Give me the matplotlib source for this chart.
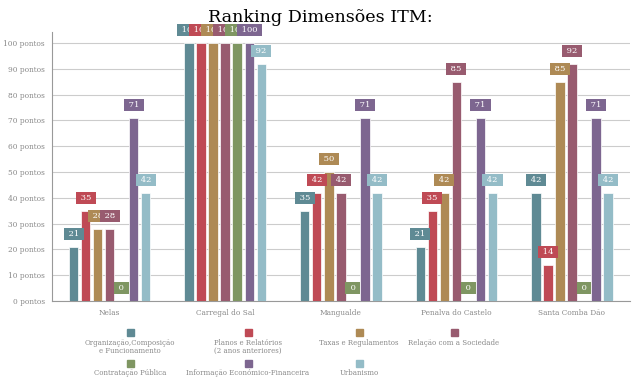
import numpy as np
import matplotlib
matplotlib.use("Agg")
import matplotlib.pyplot as plt
from matplotlib.patches import Rectangle

plt.rcParams['font.family'] = ['DejaVu Serif']

# data
cities = ["Nelas", "Carregal do Sal", "Mangualde", "Penalva do Castelo", "Santa Comba Dão"]
series_names = ["Organização,Composição\ne Funcionamento", "Planos e Relatórios\n(2 anos anteriores)",
                "Taxas e Regulamentos", "Relação com a Sociedade", "Contratação Pública",
                "Informação Económico-Financeira", "Urbanismo"]
organizacao = [21, 100, 35, 21, 42]
planos = [35, 100, 42, 35, 14]
taxas = [28, 100, 50, 42, 85]
relacao = [28, 100, 42, 85, 92]
contratacao = [0, 100, 0, 0, 0]
informacao = [71, 100, 71, 71, 71]
urbanismo = [42, 92, 42, 42, 42]
series = [organizacao, planos, taxas, relacao, contratacao, informacao, urbanismo]
colors = ["#5f8a94", "#bf4a55", "#ae8a55", "#985b6f", "#7f9662", "#7d6690", "#94bcc7"]
yticks = list(range(0, 101, 10))

fig = plt.figure(figsize=(6.4, 3.84), dpi=100)
ax = fig.add_axes([0.081, 0.216, 0.903, 0.701])

x = np.arange(len(cities))
slot = 0.104
width = 0.082
for i, (vals, c) in enumerate(zip(series, colors)):
    pos = x + (i - 3) * slot
    ax.bar(pos, vals, width, color=c, edgecolor='white', linewidth=0.5, zorder=3)
    for px, v in zip(pos, vals):
        ax.annotate(f" {v} ", (px, v), xytext=(0, 13), textcoords='offset pixels',
                    ha='center', va='center', fontsize=6, color='white', zorder=4 + i,
                    bbox=dict(boxstyle='square,pad=0.25', fc=c, ec='none'))

ax.set_xlim(-0.5, len(cities) - 0.5)
ax.set_ylim(0, 104.3)
ax.set_yticks(yticks)
ax.set_yticklabels([f"{t} pontos" for t in yticks])
ax.set_xticks(x)
ax.set_xticklabels(cities)
ax.tick_params(colors='#888888', labelsize=5.3, length=0)
ax.tick_params(axis='x', pad=6)
ax.tick_params(axis='y', pad=5)
ax.grid(axis='y', color='#cccccc', linewidth=0.8, zorder=0)
for s in ['top', 'right']:
    ax.spines[s].set_visible(False)
for s in ['left', 'bottom']:
    ax.spines[s].set_color('#999999')

fig.text(0.5, 1 - 17 / 384, "Ranking Dimensões ITM:", ha='center', va='center', fontsize=12.6)

# legend, drawn by hand in figure pixels
col_x = [130, 248, 359, 454]
rows_y = [(332, 339), (363, 369)]
for i, (name, c) in enumerate(zip(series_names, colors)):
    r, col = divmod(i, 4)
    cx = col_x[col]
    sy, ty = rows_y[r]
    fig.add_artist(Rectangle(((cx - 3.5) / 640, 1 - (sy + 3.5) / 384), 7 / 640, 7 / 384,
                             transform=fig.transFigure, color=c))
    fig.text(cx / 640, 1 - ty / 384, name, ha='center', va='top', fontsize=5,
             color='#888888', linespacing=0.95)

fig.savefig("out.png", dpi=100)
